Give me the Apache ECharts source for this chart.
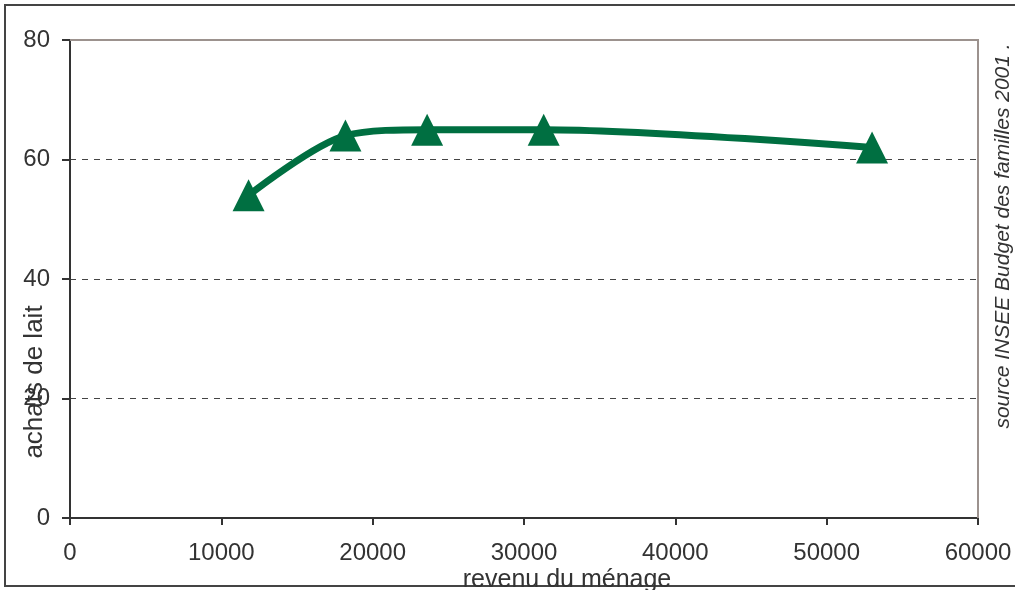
<!DOCTYPE html>
<html>
<head>
<meta charset="utf-8">
<script src="https://cdn.jsdelivr.net/npm/echarts@6/dist/echarts.min.js"></script>
<style>
  html, body { margin: 0; padding: 0; background: #fff; }
  #chart { width: 1015px; height: 590px; }
</style>
</head>
<body>
<div id="chart"></div>
<script>
// Revenu du ménage (€) et achats de lait
const revenus = [11800, 18200, 23600, 31300, 53000];
const achatsLait = [54, 64, 65, 65, 62];
const xTicks = [0, 10000, 20000, 30000, 40000, 50000, 60000];
const yTicks = [0, 20, 40, 60, 80];

const font = 'Liberation Sans, Arial, sans-serif';
const gridBox = { left: 70, right: 37, top: 40, bottom: 72 };
const W = 1015, H = 590;
const chart = echarts.init(document.getElementById('chart'));

chart.setOption({
  animation: false,
  grid: Object.assign({ show: false }, gridBox),
  xAxis: {
    type: 'value',
    min: xTicks[0], max: xTicks[xTicks.length - 1], interval: 10000,
    axisLine: { show: true, onZero: false, lineStyle: { color: '#333', width: 2 } },
    axisTick: { show: true, length: 7, lineStyle: { color: '#333', width: 2 } },
    axisLabel: { color: '#333', fontSize: 24, fontFamily: font, margin: 23, formatter: v => String(v) },
    splitLine: { show: false }
  },
  yAxis: {
    type: 'value',
    min: yTicks[0], max: yTicks[yTicks.length - 1], interval: 20,
    axisLine: { show: true, lineStyle: { color: '#333', width: 2 } },
    axisTick: { show: true, length: 8, lineStyle: { color: '#333', width: 2 } },
    axisLabel: { color: '#333', fontSize: 24, fontFamily: font, margin: 20 },
    splitLine: { show: true, lineStyle: { color: '#444', width: 1, type: [6, 6] } }
  },
  series: [{
    type: 'line',
    data: revenus.map((r, i) => [r, achatsLait[i]]),
    smooth: 0.3,
    symbol: 'triangle',
    symbolSize: 32,
    itemStyle: { color: '#006f41' },
    lineStyle: { color: '#006f41', width: 7 },
    z: 5
  }],
  graphic: [
    // plot frame: top and right edges
    {
      type: 'polyline', z: 4,
      shape: { points: [
        [gridBox.left, gridBox.top],
        [W - gridBox.right, gridBox.top],
        [W - gridBox.right, H - gridBox.bottom]
      ] },
      style: { fill: 'none', stroke: '#9c928e', lineWidth: 2 },
      silent: true
    },
    // outer border
    {
      type: 'rect',
      shape: { x: 5, y: 5, width: 1030, height: 581 },
      style: { fill: 'none', stroke: '#444', lineWidth: 2 },
      silent: true
    },
    {
      type: 'text',
      x: 35, y: 382, rotation: Math.PI / 2,
      style: {
        text: 'achats de lait', fill: '#333', font: '26px ' + font,
        textAlign: 'center', textVerticalAlign: 'middle'
      }
    },
    {
      type: 'text',
      x: 567, y: 580,
      style: {
        text: 'revenu du ménage', fill: '#333', font: '25px ' + font,
        textAlign: 'center', textVerticalAlign: 'middle'
      }
    },
    {
      type: 'text',
      x: 1003, y: 236, rotation: Math.PI / 2,
      style: {
        text: 'source INSEE Budget des familles 2001 .', fill: '#333',
        font: 'italic 21px ' + font,
        textAlign: 'center', textVerticalAlign: 'middle'
      }
    }
  ]
});
</script>
</body>
</html>
